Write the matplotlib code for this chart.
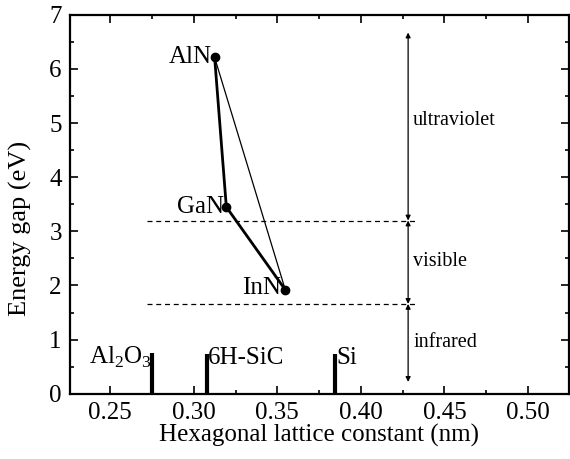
import matplotlib.pyplot as plt
from matplotlib.ticker import MultipleLocator

plt.rcParams['font.family'] = 'serif'
plt.rcParams['font.serif'] = ['Liberation Serif', 'DejaVu Serif']
plt.rcParams['mathtext.fontset'] = 'custom'
plt.rcParams['mathtext.rm'] = 'Liberation Serif'

# nitrides: lattice constant (nm), gap (eV)
nitrides = ['AlN', 'GaN', 'InN']
a_nit = [0.3125, 0.3195, 0.3548]
eg_nit = [6.21, 3.45, 1.92]

# substrates
substrates = ['Al$_2$O$_3$', '6H-SiC', 'Si']
a_sub = [0.2748, 0.3082, 0.3846]
h_sub = [0.76, 0.74, 0.74]

# spectral boundaries (eV)
bounds = [3.2, 1.66]
regions = ['ultraviolet', 'visible', 'infrared']
region_lo = [3.2, 1.66, 0.22]
region_hi = [6.67, 3.2, 1.66]
region_y = [5.05, 2.44, 0.94]

fig = plt.figure(figsize=(5.7, 4.59), dpi=100)
ax = fig.add_axes([0.123, 0.142, 0.875, 0.826])

# thick path AlN-GaN-InN, thin direct AlN-InN
ax.plot(a_nit, eg_nit, '-', color='black', linewidth=2.0)
ax.plot([a_nit[0], a_nit[2]], [eg_nit[0], eg_nit[2]], '-', color='black', linewidth=0.9)
ax.plot(a_nit, eg_nit, 'o', color='black', markersize=6)

ax.text(a_nit[0] - 0.0015, eg_nit[0], 'AlN', fontsize=18, ha='right', va='center')
ax.text(a_nit[1] - 0.0015, eg_nit[1], 'GaN', fontsize=18, ha='right', va='center')
ax.text(a_nit[2] - 0.0025, eg_nit[2] + 0.03, 'InN', fontsize=18, ha='right', va='center')

for b in bounds:
    ax.plot([0.272, 0.4345], [b, b], '--', color='black', linewidth=0.9, dashes=(4, 3))

arrow_x = 0.4283
for name, lo, hi, yt in zip(regions, region_lo, region_hi, region_y):
    ax.annotate('', xy=(arrow_x, hi), xytext=(arrow_x, lo),
                arrowprops=dict(arrowstyle='<|-|>', color='black', lw=0.9,
                                mutation_scale=7, shrinkA=0, shrinkB=0))
    ax.text(arrow_x + 0.003, yt, name, fontsize=14.5, ha='left', va='center')

for name, xs, hs in zip(substrates, a_sub, h_sub):
    ax.plot([xs, xs], [0, hs], '-', color='black', linewidth=3, solid_capstyle='butt')
ax.text(a_sub[0] + 0.0005, 0.55, substrates[0], fontsize=18, ha='right', va='baseline')
ax.text(a_sub[1] + 0.0005, 0.55, substrates[1], fontsize=18, ha='left', va='baseline')
ax.text(a_sub[2] + 0.0005, 0.55, substrates[2], fontsize=18, ha='left', va='baseline')

ax.set_xlim(0.226, 0.5245)
ax.set_ylim(0, 7)
ax.xaxis.set_major_locator(MultipleLocator(0.05))
ax.xaxis.set_minor_locator(MultipleLocator(0.025))
ax.yaxis.set_major_locator(MultipleLocator(1))
ax.yaxis.set_minor_locator(MultipleLocator(0.5))
ax.set_xticks([0.25, 0.30, 0.35, 0.40, 0.45, 0.50])
ax.set_xticklabels(['0.25', '0.30', '0.35', '0.40', '0.45', '0.50'])
ax.tick_params(which='both', direction='in', top=True, right=True, labelsize=18, width=1.2)
ax.tick_params(which='major', length=6, pad=6)
ax.tick_params(which='minor', length=3)
for s in ax.spines.values():
    s.set_linewidth(1.6)

ax.set_xlabel('Hexagonal lattice constant (nm)', fontsize=18, labelpad=0)
ax.set_ylabel('Energy gap (eV)', fontsize=19)
ax.yaxis.set_label_coords(-0.077, 0.435)

fig.savefig('out.png', dpi=100, facecolor='white')
